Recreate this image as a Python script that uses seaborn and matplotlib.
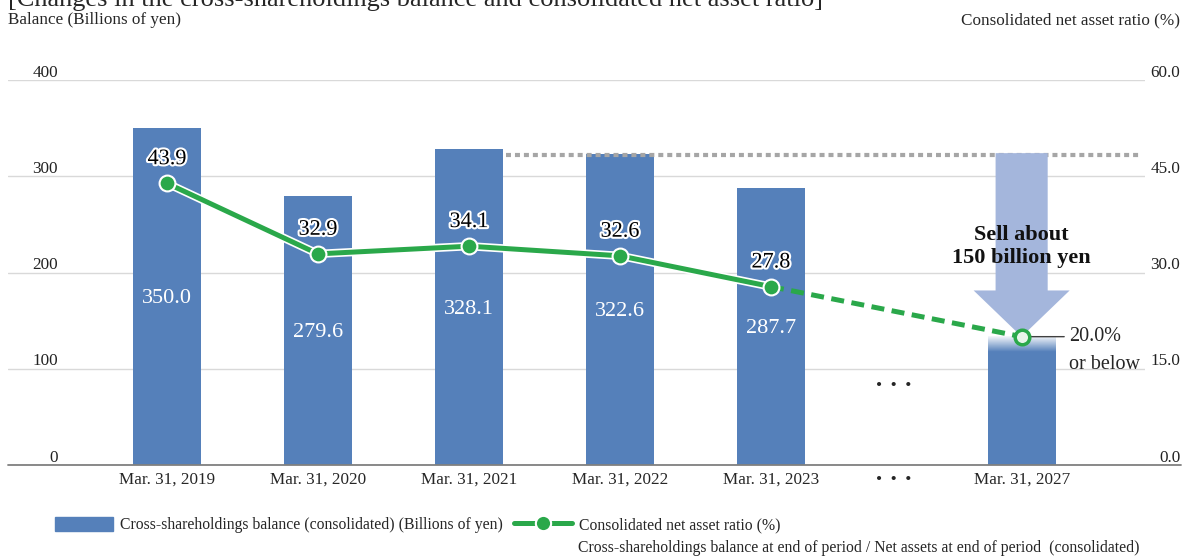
import matplotlib
matplotlib.use('Agg')
import matplotlib.pyplot as plt
import matplotlib.patheffects as pe
import matplotlib.patches as mpatches
from matplotlib.lines import Line2D
import seaborn as sns
import numpy as np
import pandas as pd

# Data
periods = ['Mar. 31, 2019', 'Mar. 31, 2020', 'Mar. 31, 2021',
           'Mar. 31, 2022', 'Mar. 31, 2023', 'Mar. 31, 2027']
x_pos = [0, 1, 2, 3, 4, 5.66]
balance = [350.0, 279.6, 328.1, 322.6, 287.7, 134.0]
balance_labels = ['350.0', '279.6', '328.1', '322.6', '287.7']
ratio = [43.9, 32.9, 34.1, 32.6, 27.8, 20.0]
gap_pos = 4.81
left_ticks = [0, 100, 200, 300, 400]
right_ticks = [0, 15, 30, 45, 60]
sell_level = 322.0

BLUE = '#5580BA'
GREEN = '#2AA84A'
ARROW = '#A4B6DC'
W, H = 1183, 557

sns.set_theme(style='white')
plt.rcParams['font.family'] = ['Liberation Serif', 'DejaVu Serif']

fig = plt.figure(figsize=(W / 100, H / 100), dpi=100)
ax = fig.add_axes([8 / W, 1 - 465 / H, 1137 / W, 385 / H])

# Bars
df = pd.DataFrame({'x': x_pos, 'balance': balance})
bw = 0.45
sns.barplot(data=df, x='x', y='balance', native_scale=True,
            width=bw / np.diff(x_pos).min(), color=BLUE, saturation=1,
            errorbar=None, linewidth=0, ax=ax, zorder=2)

# fade top of the 2027 bar
grad = np.ones((40, 2, 4))
grad[:, :, 3] = np.linspace(1, 0, 40)[:, None]
ax.imshow(grad, extent=[x_pos[5] - bw / 2, x_pos[5] + bw / 2, 117, balance[5] + 0.5],
          aspect='auto', zorder=2.5, origin='upper')

for x, v, lab in zip(x_pos, balance, balance_labels):
    ax.text(x, v / 2 - 2, lab, color='white', fontsize=16, ha='center', va='center', zorder=6)

# dotted reference line and sell arrow
ax.plot([x_pos[2] + bw / 2 + 0.02, 6.44], [sell_level, sell_level], color='#A6A6A6',
        lw=3, ls=(0, (1.2, 0.95)), zorder=2.6)
tip = ratio[5] * 400 / 60
arrow = mpatches.FancyArrow(x_pos[5], sell_level + 2, 0, tip - sell_level - 2,
                            width=0.345, head_width=0.636, head_length=48,
                            length_includes_head=True, color=ARROW, lw=0, zorder=3)
ax.add_patch(arrow)
ax.text(x_pos[5], 227, 'Sell about\n150 billion yen', fontsize=16, fontweight='bold',
        ha='center', va='center', linespacing=1.15, color='#111111', zorder=6)

ax.text(gap_pos, 82, '•  •  •', fontsize=12.3, ha='center', va='center')

ax.set_xlim(-1.053, 6.477)
ax.set_ylim(0, 400)
ax.set_yticks(left_ticks)
ax.yaxis.grid(True, color='#D9D9D9', lw=1)
ax.set_axisbelow(True)
ax.tick_params(axis='y', labelleft=False, length=0)
ax.set_xticks(x_pos[:5] + [gap_pos] + [x_pos[5]])
ax.set_xticklabels(periods[:5] + ['•  •  •'] + [periods[5]], fontsize=12.3)
ax.tick_params(axis='x', length=0, pad=5)
ax.set_xlabel('')
ax.set_ylabel('')
for s in ax.spines.values():
    s.set_visible(False)
ax.plot([0, 1.032], [0, 0], transform=ax.get_yaxis_transform(), clip_on=False,
        color='#808080', lw=1.3, zorder=4)

for t in left_ticks:
    ax.annotate(str(t), xy=(0.044, t), xycoords=('axes fraction', 'data'),
                xytext=(0, 2.5), textcoords='offset points', ha='right', va='baseline',
                fontsize=12.3, color='#222222')

# Ratio line on right axis
ax2 = ax.twinx()
ax2.set_ylim(0, 60)
outline = [pe.Stroke(linewidth=6, foreground='white'), pe.Normal()]
sns.lineplot(x=x_pos[:5], y=ratio[:5], ax=ax2, color=GREEN, lw=3.6,
             path_effects=outline, zorder=3)
sns.lineplot(x=x_pos[4:], y=ratio[4:], ax=ax2, color=GREEN, lw=3.6,
             ls=(0, (2.6, 1.5)), zorder=3)
sns.scatterplot(x=x_pos[:5], y=ratio[:5], ax=ax2, s=130, color=GREEN,
                edgecolor='white', linewidth=1.5, zorder=5)
sns.scatterplot(x=x_pos[5:], y=ratio[5:], ax=ax2, s=110, color='#E8F5E9',
                edgecolor=GREEN, linewidth=2.5, zorder=5)

for x, r in zip(x_pos[:5], ratio[:5]):
    ax2.annotate(f'{r:.1f}', (x, r), xytext=(0, 17), textcoords='offset points',
                 ha='center', va='center', fontsize=16, color='black', zorder=7,
                 path_effects=[pe.withStroke(linewidth=3, foreground='white')])

ax2.annotate('20.0%', (x_pos[5], ratio[5]), xytext=(34, 0), textcoords='offset points',
             ha='left', va='center', fontsize=14.5, zorder=4,
             arrowprops=dict(arrowstyle='-', color='#404040', lw=1, shrinkA=1, shrinkB=0))
ax2.annotate('or below', (x_pos[5], ratio[5]), xytext=(34, -20), textcoords='offset points',
             ha='left', va='center', fontsize=14.5)

ax2.set_yticks(right_ticks)
ax2.tick_params(axis='y', labelright=False, length=0)
ax2.grid(False)
for s in ax2.spines.values():
    s.set_visible(False)
for t in right_ticks:
    ax2.annotate(f'{t:.1f}', xy=(1.031, t), xycoords=('axes fraction', 'data'),
                 xytext=(0, 2.5), textcoords='offset points', ha='right', va='baseline',
                 fontsize=12.3, color='#222222', annotation_clip=False)

# Titles (the heading is cut by the top edge in the original)
fig.text(8 / W, 1 - 6 / H, '[Changes in the cross-shareholdings balance and consolidated net asset ratio]',
         fontsize=19, ha='left', va='baseline')
fig.text(8 / W, 1 - 20 / H, 'Balance (Billions of yen)', fontsize=12.3, ha='left', va='center')
fig.text(1180 / W, 1 - 20 / H, 'Consolidated net asset ratio (%)', fontsize=12.3,
         ha='right', va='center')

# Legend
handles = [mpatches.Patch(color=BLUE),
           Line2D([], [], color=GREEN, lw=3.6, marker='o', markersize=11,
                  markeredgecolor='white', markeredgewidth=1.5)]
labels = ['Cross-shareholdings balance (consolidated) (Billions of yen)',
          'Consolidated net asset ratio (%)']
fig.legend(handles, labels, loc='center left', bbox_to_anchor=(55 / W, 1 - 525 / H),
           ncol=2, frameon=False, handlelength=3.7, handleheight=1.0,
           handletextpad=0.45, columnspacing=0.7, borderpad=0, borderaxespad=0,
           prop={'size': 11.3})
fig.text(578 / W, 1 - 548 / H,
         'Cross-shareholdings balance at end of period / Net assets at end of period  (consolidated)',
         fontsize=11.3, ha='left', va='center')

fig.savefig('out.png', dpi=100)
